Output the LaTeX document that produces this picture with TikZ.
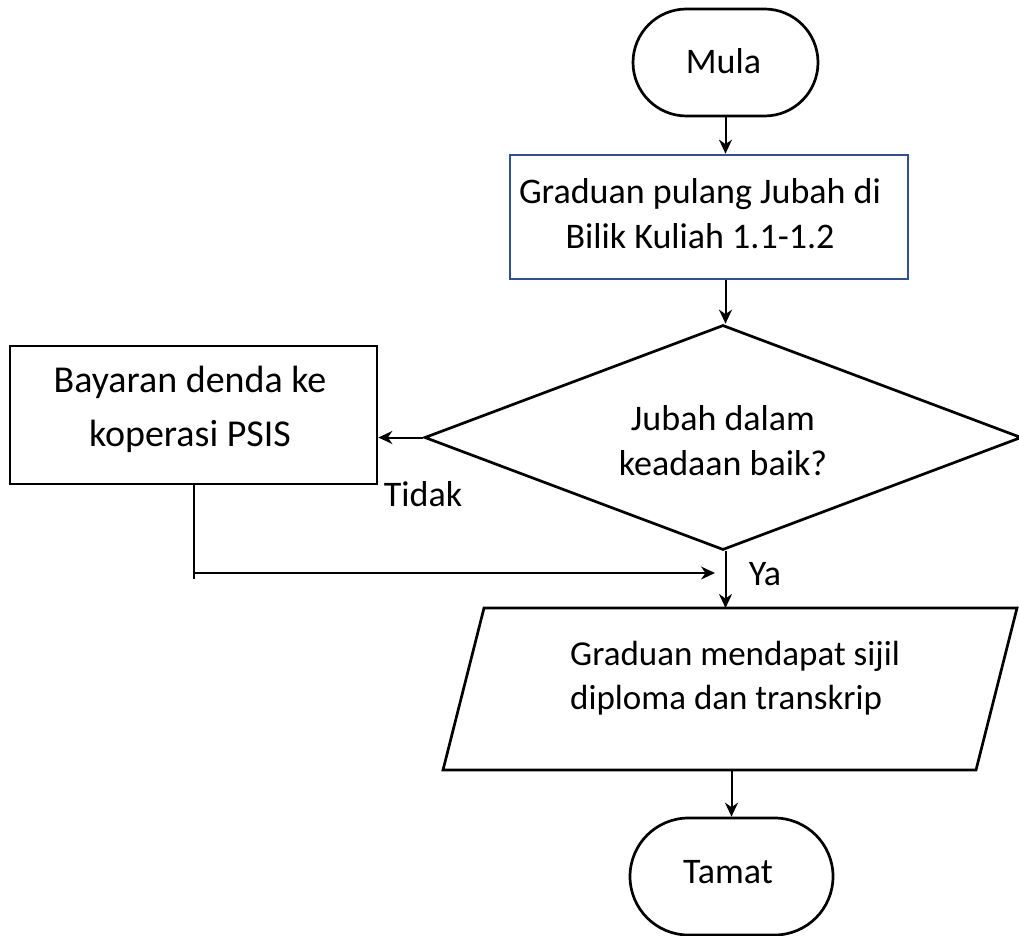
\documentclass[tikz,border=0pt]{standalone}
\usepackage{fontspec}
\setmainfont{Carlito}
\usetikzlibrary{shapes.geometric,shapes.misc,arrows.meta}
\definecolor{boxblue}{RGB}{47,82,143}
\begin{document}
\begin{tikzpicture}[x=1pt,y=-1pt,
  every node/.style={font=\fontsize{36}{45}\selectfont},
  shapeline/.style={draw=black, line width=2.7pt},
  conn/.style={line width=2pt, -{Stealth[length=14pt,width=13pt,inset=4.5pt]}},
  plain/.style={line width=2pt},
  txt/.style={align=center, inner sep=0pt}
]
\useasboundingbox (0,0) rectangle (1019,936);
% shapes
\node[rounded rectangle, shapeline, minimum width=185pt, minimum height=107pt, inner sep=0pt] (mula) at (725.5,62.5) {};
\node[txt] (mulatxt) at (723.5,61) {Mula};
\node[rectangle, draw=boxblue, line width=2.7pt, minimum width=398pt, minimum height=124pt] (grad) at (709,217) {};
\node[txt] (gradtxt) at (700,214) {Graduan pulang Jubah di\\Bilik Kuliah 1.1-1.2};
\node[diamond, shapeline, minimum width=597pt, minimum height=225pt, inner sep=0pt] (dec) at (723,437.5) {};
\node[txt] (dectxt) at (723,441) {Jubah dalam\\keadaan baik?};
\node[rectangle, shapeline, minimum width=367pt, minimum height=138pt] (bay) at (193.5,415) {};
\node[txt, font=\fontsize{38}{45}\selectfont] (baytxt) at (190,409) {Bayaran denda ke\\[9pt]koperasi PSIS};
% parallelogram
\coordinate (p1) at (484,608);
\coordinate (p2) at (1017,608);
\coordinate (p3) at (976,770);
\coordinate (p4) at (443,770);
\draw[shapeline, line join=miter] (p1) -- (p2) -- (p3) -- (p4) -- cycle;
\coordinate (partop) at (725.5,608);
\coordinate (parbot) at (731.5,770);
\node[txt, align=left, anchor=west, font=\fontsize{35}{44}\selectfont] (partxt) at (570,678) {Graduan mendapat sijil\\diploma dan transkrip};
\node[rounded rectangle, shapeline, minimum width=203pt, minimum height=117pt, inner sep=0pt] (tamat) at (731.5,876.5) {};
\node[txt] (tamattxt) at (728,872) {Tamat};
% labels
\node[txt] (tidak) at (423,494) {Tidak};
\node[txt] (ya) at (765,574) {Ya};
% connectors
\coordinate (j0) at (193.5,579);
\coordinate (j1) at (193.5,573);
\coordinate (j2) at (715,573);
\draw[conn] (mula.south) -- (mula.south |- grad.north);
\draw[conn] (mula.south |- grad.south) -- (mula.south |- dec.north);
\draw[conn] (dec.west) -- (dec.west -| bay.east);
\draw[plain] (bay.south) -- (j0);
\draw[conn] (j1) -- (j2);
\draw[conn] (mula.south |- dec.south) -- (partop);
\draw[conn] (parbot) -- (tamat.north);
\end{tikzpicture}
\end{document}
